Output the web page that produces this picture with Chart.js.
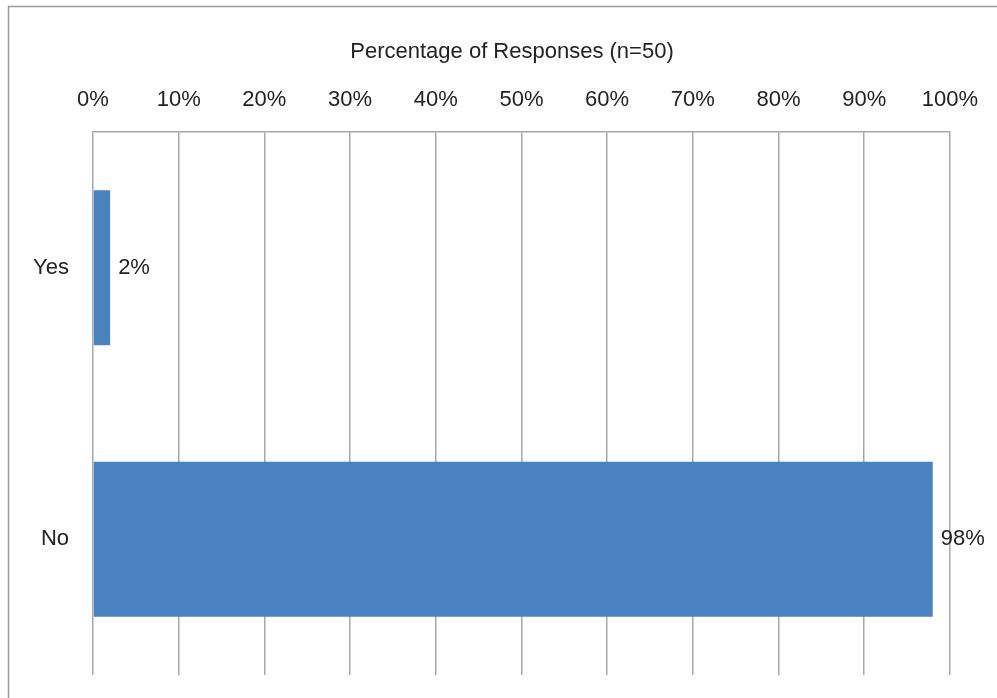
<!DOCTYPE html>
<html>
<head>
<meta charset="utf-8">
<script src="https://cdn.jsdelivr.net/npm/chart.js@4/dist/chart.umd.min.js"></script>
<style>
  html, body { margin: 0; padding: 0; background: #fff; }
  #wrap { width: 997px; height: 698px; position: relative; }
</style>
</head>
<body>
<div id="wrap"><canvas id="c" width="997" height="698"></canvas></div>
<script>
const categories = ["Yes", "No"];
const percentages = [2, 98];
const tickValues = [0, 10, 20, 30, 40, 50, 60, 70, 80, 90, 100];
const axisTitle = "Percentage of Responses (n=50)";

const FONT = "'Liberation Sans', Arial, Helvetica, sans-serif";
const TEXT = "#222222";
const GRID = "#a8a8a8";

const frame = {
  id: "frame",
  beforeDraw(chart) {
    const ctx = chart.ctx;
    ctx.save();
    ctx.strokeStyle = "#9a9a9a";
    ctx.lineWidth = 1.5;
    ctx.strokeRect(8.5, 6.5, 3000, 3000);
    ctx.restore();
  }
};

const titleText = {
  id: "titleText",
  afterDraw(chart) {
    const ctx = chart.ctx;
    ctx.save();
    ctx.font = "22px " + FONT;
    ctx.fillStyle = TEXT;
    ctx.textAlign = "center";
    ctx.textBaseline = "middle";
    ctx.fillText(axisTitle, 512, 52);
    ctx.restore();
  }
};

const valueLabels = {
  id: "valueLabels",
  afterDatasetsDraw(chart) {
    const ctx = chart.ctx;
    ctx.save();
    ctx.font = "22px " + FONT;
    ctx.fillStyle = TEXT;
    ctx.textAlign = "left";
    ctx.textBaseline = "middle";
    chart.getDatasetMeta(0).data.forEach((bar, i) => {
      ctx.fillText(percentages[i] + "%", bar.x + 8, bar.y);
    });
    ctx.restore();
  }
};

new Chart(document.getElementById("c"), {
  type: "bar",
  data: {
    labels: categories,
    datasets: [{
      data: percentages,
      backgroundColor: "#4a81bf",
      borderWidth: 0,
      barPercentage: 0.57,
      categoryPercentage: 1
    }]
  },
  options: {
    indexAxis: "y",
    responsive: false,
    animation: false,
    devicePixelRatio: 1,
    layout: { padding: { left: 10, top: 10, right: 45, bottom: 23 } },
    plugins: {
      legend: { display: false },
      tooltip: { enabled: false },
      title: { display: false }
    },
    scales: {
      x: {
        position: "top",
        min: 0,
        max: 100,
        afterBuildTicks(scale) {
          scale.ticks = tickValues.map(v => ({ value: v }));
        },
        afterFit(scale) { scale.height = 122; },
        ticks: {
          callback: v => v + "%",
          color: TEXT,
          font: { family: FONT, size: 22 },
          padding: 19,
          maxRotation: 0
        },
        grid: { color: GRID, lineWidth: 1.5, drawTicks: false },
        border: { display: true, color: GRID, width: 1.5 }
      },
      y: {
        afterFit(scale) {
          scale.width = 83;
          scale.paddingTop = 0;
          scale.paddingBottom = 0;
        },
        ticks: {
          color: TEXT,
          font: { family: FONT, size: 22 },
          padding: 24
        },
        grid: { display: false, drawTicks: false },
        border: { display: false }
      }
    }
  },
  plugins: [frame, valueLabels, titleText]
});
</script>
</body>
</html>
